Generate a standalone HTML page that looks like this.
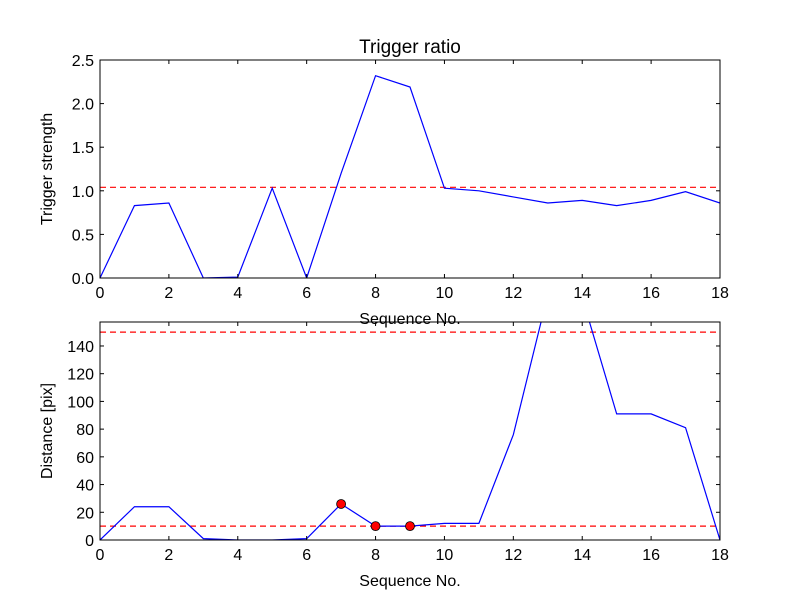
<!DOCTYPE html>
<html><head><meta charset="utf-8"><style>
body{margin:0;background:#fff}
svg text{font-family:"Liberation Sans","DejaVu Sans",sans-serif;fill:#000}
</style></head><body>
<svg id="c" width="800" height="600" xmlns="http://www.w3.org/2000/svg">
<rect width="800" height="600" fill="#fff"/>
<text x="410" y="53" font-size="19" text-anchor="middle">Trigger ratio</text>
</svg>
<script>
const seq=[0,1,2,3,4,5,6,7,8,9,10,11,12,13,14,15,16,17,18];
const strength=[0,0.83,0.86,0,0.01,1.03,0,1.2,2.32,2.19,1.03,1.0,0.93,0.86,0.89,0.83,0.89,0.99,0.86];
const strengthThreshold=1.04;
const topTicks=[0,0.5,1,1.5,2,2.5];
const topTickLabels=["0.0","0.5","1.0","1.5","2.0","2.5"];
const distance=[0,24,24,1,0,0,1,26,10,10,12,12,76,177,175,91,91,81,0];
const markerIdx=[7,8,9];
const distThresholds=[10,150];
const botTicks=[0,20,40,60,80,100,120,140];
const xTicks=[0,2,4,6,8,10,12,14,16,18];
const NS="http://www.w3.org/2000/svg";
const svg=document.getElementById('c');
function el(t,a,p){const e=document.createElementNS(NS,t);for(const k in a)e.setAttribute(k,a[k]);(p||svg).appendChild(e);return e;}
function panel(name,top,bottom,ymax,ys,yticks,ylabels,ytitle,thresholds,markers){
  const L=100,R=720;
  const sx=v=>L+(v-0)/(18-0)*(R-L);
  const sy=v=>bottom-v/ymax*(bottom-top);
  const g=el('g',{});
  
  
  const cp=el('clipPath',{id:'cp'+name},g);
  el('rect',{x:L,y:top,width:R-L,height:bottom-top},cp);
  thresholds.forEach(t=>{const l=el('line',{x1:L,x2:R,y1:sy(t),y2:sy(t),stroke:'#ff0000','stroke-dasharray':'6,4','stroke-width':1.2,'clip-path':'url(#cp'+name+')'},g);
    
    });
  const p=el('polyline',{points:ys.map((v,i)=>sx(seq[i])+','+sy(v)).join(' '),fill:'none',stroke:'#0000ff','stroke-width':1.2,'clip-path':'url(#cp'+name+')'},g);
  
  
  (markers||[]).forEach(i=>{const c=el('circle',{cx:sx(seq[i]),cy:sy(ys[i]),r:4.5,fill:'#ff0000',stroke:'#000','stroke-width':0.8},g);
    
    });
  const fr=el('rect',{x:L,y:top,width:R-L,height:bottom-top,fill:'none',stroke:'#000','stroke-width':1},g);
  
  
  xTicks.forEach(t=>{const x=sx(t);
    el('line',{x1:x,x2:x,y1:bottom,y2:bottom-4,stroke:'#000'},g);
    el('line',{x1:x,x2:x,y1:top,y2:top+4,stroke:'#000'},g);
    const tx=el('text',{x:x,y:bottom+20,'font-size':16,'text-anchor':'middle'},g);tx.textContent=t;
    
    });
  yticks.forEach((t,i)=>{const y=sy(t);
    el('line',{x1:L,x2:L+4,y1:y,y2:y,stroke:'#000'},g);
    el('line',{x1:R,x2:R-4,y1:y,y2:y,stroke:'#000'},g);
    const tx=el('text',{x:L-6,y:y+6,'font-size':16,'text-anchor':'end'},g);tx.textContent=ylabels[i];
    
    });
  const xt=el('text',{x:410,y:bottom+46,'font-size':16,'text-anchor':'middle'},g);xt.textContent='Sequence No.';
  
  
  const cy=(top+bottom)/2;
  const yt=el('text',{x:0,y:0,'font-size':16,'text-anchor':'middle',transform:'translate(52,'+cy+') rotate(-90)'},g);yt.textContent=ytitle;
  
  
}
panel('top',60,278,2.5,strength,topTicks,topTickLabels,'Trigger strength',[strengthThreshold],null);
panel('bottom',322,540,157.3,distance,botTicks,botTicks.map(String),'Distance [pix]',distThresholds,markerIdx);
</script>
</body></html>
